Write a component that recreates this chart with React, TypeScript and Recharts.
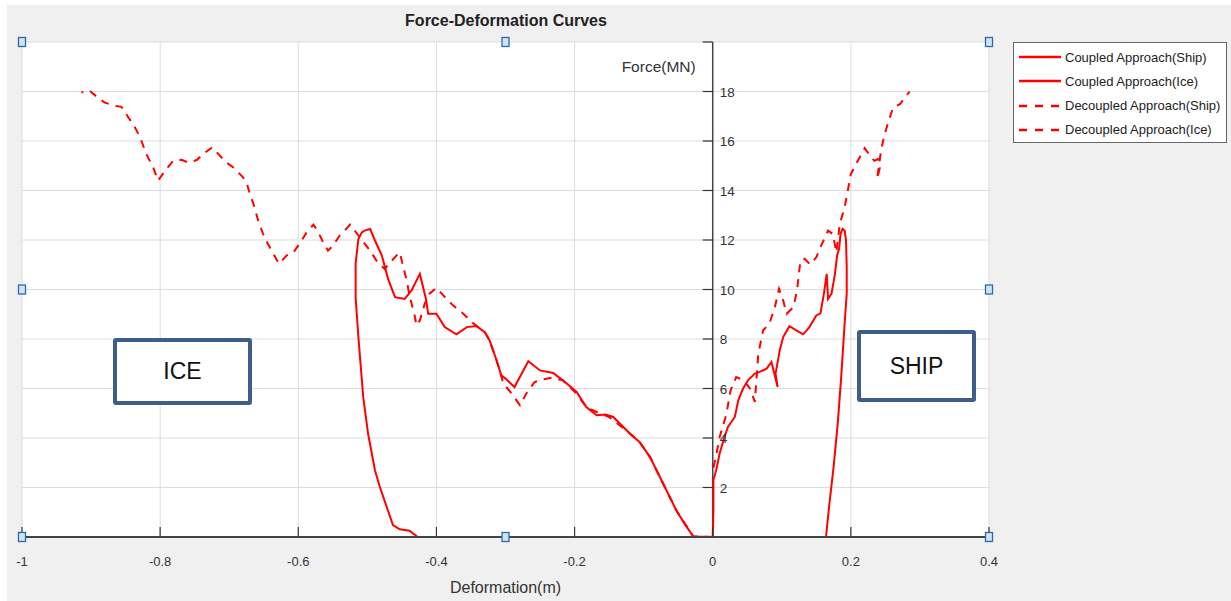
import { LineChart, Line, XAxis, YAxis, CartesianGrid, ReferenceLine, ReferenceDot } from 'recharts'

// tick values
const X_TICKS = [-1, -0.8, -0.6, -0.4, -0.2, 0, 0.2, 0.4]
const Y_TICKS = [0, 2, 4, 6, 8, 10, 12, 14, 16, 18, 20]
const Y_LABELED = [2, 4, 6, 8, 10, 12, 14, 16, 18]
const Y_MARKS = [2, 4, 6, 8, 10, 12, 14, 16, 18, 20]

// series, [deformation (m), force (MN)]
const COUPLED_SHIP: [number, number][] = [
  [0, 0], [0.001, 1.0], [0.001, 2.3], [0.005, 2.7], [0.01, 3.37], [0.017, 4.04], [0.022, 4.45],
  [0.032, 4.85], [0.037, 5.52], [0.044, 6.0], [0.051, 6.33], [0.061, 6.6], [0.068, 6.67],
  [0.078, 6.8], [0.085, 7.07], [0.094, 6.06], [0.091, 6.6], [0.097, 7.54], [0.102, 8.08],
  [0.111, 8.52], [0.121, 8.35], [0.131, 8.19], [0.14, 8.48], [0.15, 8.95], [0.156, 9.04],
  [0.161, 9.83], [0.165, 10.63], [0.167, 9.62], [0.172, 9.83], [0.177, 10.63], [0.18, 11.37],
  [0.183, 11.64], [0.185, 12.24], [0.188, 12.45], [0.191, 12.38], [0.193, 11.98], [0.194, 10.9],
  [0.194, 9.83], [0.191, 8.62], [0.186, 6.46], [0.181, 4.58], [0.175, 2.83], [0.169, 1.36], [0.164, 0],
]

const COUPLED_ICE: [number, number][] = [
  [0, 0], [-0.028, 0.02], [-0.04, 0.5], [-0.053, 1.09], [-0.072, 2.17], [-0.091, 3.24],
  [-0.106, 3.84], [-0.12, 4.18], [-0.144, 4.85], [-0.155, 4.95], [-0.168, 4.92], [-0.183, 5.25],
  [-0.197, 5.86], [-0.217, 6.33], [-0.231, 6.63], [-0.25, 6.73], [-0.267, 7.1], [-0.287, 6.06],
  [-0.3, 6.4], [-0.306, 6.53], [-0.313, 7.14], [-0.323, 7.94], [-0.33, 8.28], [-0.342, 8.52],
  [-0.356, 8.48], [-0.371, 8.19], [-0.388, 8.48], [-0.4, 9.02], [-0.412, 9.02], [-0.415, 9.6],
  [-0.424, 10.63], [-0.436, 9.96], [-0.446, 9.62], [-0.46, 9.69], [-0.47, 10.43], [-0.479, 11.37],
  [-0.489, 11.98], [-0.496, 12.45], [-0.504, 12.38], [-0.508, 12.31], [-0.513, 12.04],
  [-0.517, 11.04], [-0.517, 9.69], [-0.513, 8.08], [-0.506, 5.66], [-0.499, 4.18], [-0.489, 2.7],
  [-0.482, 2.03], [-0.472, 1.22], [-0.463, 0.48], [-0.453, 0.31], [-0.439, 0.25], [-0.428, 0.02],
]

const DECOUPLED_SHIP: [number, number][] = [
  [0.001, 2.8], [0.005, 3.3], [0.01, 4.04], [0.015, 4.5], [0.02, 4.99], [0.025, 5.8], [0.026, 5.93],
  [0.034, 6.46], [0.044, 6.35], [0.054, 6.0], [0.061, 5.46], [0.066, 7.4], [0.073, 8.35],
  [0.082, 8.62], [0.09, 9.29], [0.096, 10.03], [0.102, 9.56], [0.107, 9.02], [0.117, 9.29],
  [0.122, 9.96], [0.127, 11.17], [0.133, 11.24], [0.141, 11.01], [0.15, 11.3], [0.157, 11.77],
  [0.167, 12.38], [0.174, 12.24], [0.179, 11.5], [0.184, 12.65], [0.191, 13.32], [0.196, 14.06],
  [0.2, 14.67], [0.21, 15.2], [0.22, 15.71], [0.228, 15.4], [0.234, 15.2], [0.239, 15.27],
  [0.242, 14.93], [0.238, 14.46], [0.244, 15.67], [0.249, 16.28], [0.254, 16.75], [0.261, 17.35],
  [0.271, 17.49], [0.285, 18.0],
]

const DECOUPLED_ICE: [number, number][] = [
  [0, 0], [-0.028, 0.02], [-0.053, 1.09], [-0.072, 2.17], [-0.091, 3.24], [-0.106, 3.84],
  [-0.12, 4.18], [-0.15, 4.85], [-0.168, 5.05], [-0.183, 5.25], [-0.197, 5.79], [-0.217, 6.33],
  [-0.233, 6.44], [-0.246, 6.37], [-0.258, 6.26], [-0.27, 5.79], [-0.279, 5.32], [-0.291, 5.79],
  [-0.303, 6.2], [-0.313, 7.14], [-0.323, 7.94], [-0.33, 8.28], [-0.349, 8.68], [-0.361, 9.02],
  [-0.376, 9.36], [-0.39, 9.76], [-0.4, 10.07], [-0.41, 9.83], [-0.417, 9.42], [-0.424, 8.75],
  [-0.429, 8.55], [-0.431, 8.88], [-0.439, 9.76], [-0.443, 10.36], [-0.448, 10.9], [-0.453, 11.5],
  [-0.458, 11.37], [-0.475, 10.83], [-0.487, 11.17], [-0.496, 11.57], [-0.511, 12.11],
  [-0.525, 12.62], [-0.533, 12.38], [-0.54, 12.18], [-0.55, 11.77], [-0.557, 11.57],
  [-0.564, 11.91], [-0.571, 12.31], [-0.578, 12.62], [-0.588, 12.31], [-0.595, 11.98],
  [-0.607, 11.5], [-0.617, 11.37], [-0.628, 11.04], [-0.636, 11.44], [-0.644, 11.84],
  [-0.651, 12.25], [-0.658, 12.78], [-0.665, 13.46], [-0.67, 13.86], [-0.675, 14.33],
  [-0.68, 14.53], [-0.694, 14.93], [-0.704, 15.13], [-0.718, 15.54], [-0.725, 15.74],
  [-0.738, 15.47], [-0.747, 15.23], [-0.759, 15.13], [-0.769, 15.24], [-0.781, 15.2],
  [-0.791, 14.87], [-0.803, 14.4], [-0.81, 14.93], [-0.82, 15.47], [-0.829, 16.15],
  [-0.839, 16.68], [-0.846, 16.95], [-0.856, 17.38], [-0.865, 17.42], [-0.88, 17.55],
  [-0.89, 17.75], [-0.903, 18.05], [-0.914, 17.96],
]

const SERIES = [
  { name: 'Coupled Approach(Ship)', pts: COUPLED_SHIP, dash: undefined },
  { name: 'Coupled Approach(Ice)', pts: COUPLED_ICE, dash: undefined },
  { name: 'Decoupled Approach(Ship)', pts: DECOUPLED_SHIP, dash: '8 7' },
  { name: 'Decoupled Approach(Ice)', pts: DECOUPLED_ICE, dash: '8 7' },
]

// selection handles drawn by the figure editor
const HANDLES: [number, number][] = [
  [-1, 0], [-0.3, 0], [0.4, 0], [-1, 10], [0.4, 10], [-1, 20], [-0.3, 20], [0.4, 20],
]

const FONT = "'Liberation Sans', Arial, sans-serif"
const RED = '#ff0000'

const toRows = (pts: [number, number][]) => pts.map(([x, y]) => ({ x, y }))

const Handle = (p: any) => (
  <rect x={p.cx - 3.5} y={p.cy - 4.5} width={7} height={9} fill="#cfe4f8" stroke="#2b6aa8" strokeWidth={1.3} />
)

const YMark = (v: number) => (p: any) => (
  <g>
    <line x1={p.cx - 10} y1={p.cy} x2={p.cx} y2={p.cy} stroke="#333" strokeWidth={1.2} />
    {Y_LABELED.includes(v) && (
      <text x={p.cx + 7} y={p.cy + 5} fontSize={13.5} fill="#333" fontFamily={FONT}>{v}</text>
    )}
  </g>
)

const XMark = (p: any) => (
  <line x1={p.cx} y1={p.cy} x2={p.cx} y2={p.cy - 10} stroke="#333" strokeWidth={1.2} />
)

const ForceLabel = (p: any) => (
  <text x={p.cx - 17} y={p.cy + 5} textAnchor="end" fontSize={15.5} fill="#333" fontFamily={FONT}>Force(MN)</text>
)

function Box({ left, top, width, height, text }: { left: number; top: number; width: number; height: number; text: string }) {
  return (
    <div style={{
      position: 'absolute', left, top, width, height, boxSizing: 'border-box',
      border: '4.5px solid #3e5d8b', borderRadius: 3, background: '#fff',
      display: 'flex', alignItems: 'center', justifyContent: 'center',
      fontFamily: FONT, fontSize: 23, color: '#111',
    }}>{text}</div>
  )
}

export default function App() {
  return (
    <div style={{ position: 'absolute', left: 0, top: 0, width: 1231, height: 601, background: '#fff', overflow: 'hidden' }}>
      <div style={{ position: 'absolute', left: 7, top: 5, right: 0, bottom: 0, background: '#f0f0f0' }} />
      <div style={{ position: 'absolute', left: 0, top: 0 }}>
        <LineChart width={1231} height={601} margin={{ top: 42, right: 242, bottom: 0, left: 22 }}>
          <CartesianGrid stroke="#dcdcdc" fill="#fff" />
          <XAxis type="number" dataKey="x" domain={[-1, 0.4]} ticks={X_TICKS} allowDataOverflow
            height={64} tickLine={false} tickSize={6} tickMargin={14}
            tickFormatter={(v) => String(v)}
            tick={{ fill: '#333', fontSize: 13, fontFamily: FONT }}
            axisLine={{ stroke: '#454545', strokeWidth: 2 }}
            label={{ value: 'Deformation(m)', position: 'insideBottom', offset: 8, fill: '#333', fontSize: 16, fontFamily: FONT }} />
          <YAxis type="number" domain={[0, 20]} ticks={Y_TICKS} hide allowDataOverflow />
          <ReferenceLine x={0} stroke="#454545" strokeWidth={1.5} />
          {Y_MARKS.map((v) => (
            <ReferenceDot key={'y' + v} x={0} y={v} r={0} shape={YMark(v)} />
          ))}
          {X_TICKS.map((v) => (
            <ReferenceDot key={'x' + v} x={v} y={0} r={0} shape={XMark} />
          ))}
          <ReferenceDot x={0} y={19} r={0} shape={ForceLabel} />
          {SERIES.map((s) => (
            <Line key={s.name} data={toRows(s.pts)} dataKey="y" name={s.name} type="linear"
              stroke={RED} strokeWidth={2} strokeDasharray={s.dash} dot={false}
              activeDot={false} isAnimationActive={false} />
          ))}
          {HANDLES.map(([x, y]) => (
            <ReferenceDot key={x + '_' + y} x={x} y={y} r={0} shape={Handle} ifOverflow="visible" />
          ))}
        </LineChart>
      </div>

      <div style={{
        position: 'absolute', left: 306, width: 400, top: 12, textAlign: 'center',
        fontFamily: FONT, fontWeight: 'bold', fontSize: 16, color: '#222',
      }}>Force-Deformation Curves</div>

      <div style={{
        position: 'absolute', left: 1013, top: 42, width: 214, height: 101, boxSizing: 'border-box',
        border: '1px solid #666', background: '#fff',
      }}>
        {SERIES.map((s, i) => (
          <div key={s.name} style={{
            position: 'absolute', left: 4, top: 5 + i * 24.3, height: 18,
            display: 'flex', alignItems: 'center', whiteSpace: 'nowrap',
            fontFamily: FONT, fontSize: 13, color: '#222',
          }}>
            <svg width={44} height={4} style={{ marginRight: 3 }}>
              <line x1={1} y1={2} x2={43} y2={2} stroke={RED} strokeWidth={2.5} strokeDasharray={s.dash ? '8 8' : undefined} />
            </svg>
            {s.name}
          </div>
        ))}
      </div>

      <Box left={113} top={338} width={139} height={67} text="ICE" />
      <Box left={857} top={330} width={119} height={72} text="SHIP" />
    </div>
  )
}
